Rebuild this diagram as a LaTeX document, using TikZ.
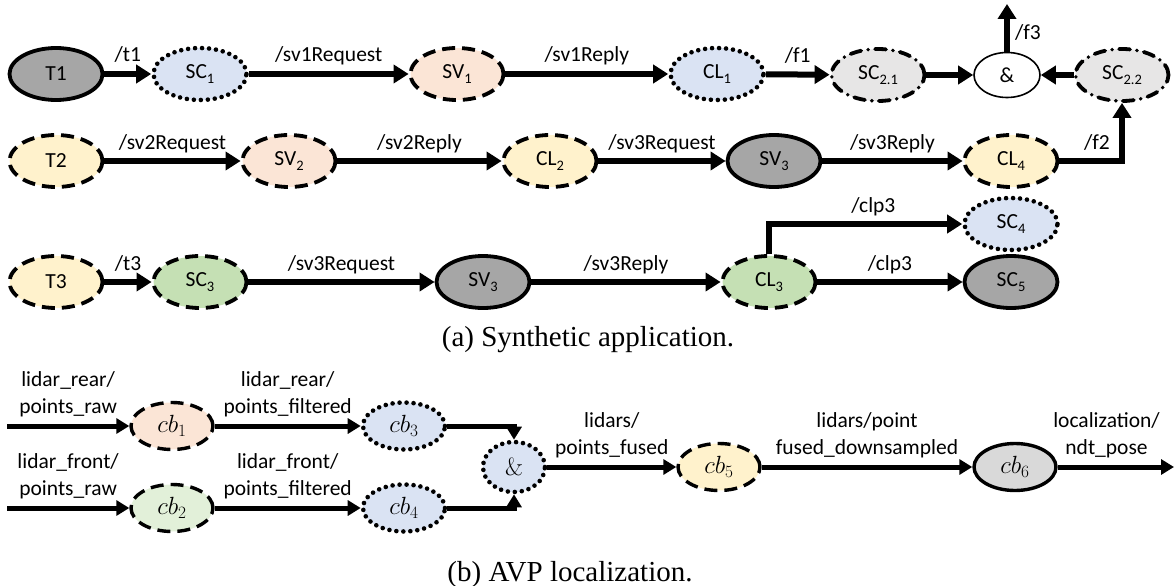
\documentclass[tikz,border=0pt]{standalone}
\usepackage[no-math]{fontspec}
\setmainfont{Carlito}
\newfontfamily\capfont{Liberation Serif}
\usetikzlibrary{shapes.geometric,arrows.meta}

% lowered, smaller index for the node names (SC_1, CL_2, ...)
\newcommand\idx[1]{\raisebox{-4.5pt}{\fontsize{14.5}{15}\selectfont #1}}

\definecolor{cgray}{HTML}{A6A6A6}
\definecolor{cblue}{HTML}{DAE3F3}
\definecolor{cpeach}{HTML}{FBE5D6}
\definecolor{cyellow}{HTML}{FFF2CC}
\definecolor{cgreen}{HTML}{C5E0B4}
\definecolor{clgreen}{HTML}{E2F0D9}
\definecolor{clgray}{HTML}{E7E6E6}
\definecolor{cmgray}{HTML}{D9D9D9}

\tikzset{
  nd/.style={ellipse, draw=black, line width=3.8pt, minimum width=93pt,
    minimum height=52pt, inner sep=0pt, font=\fontsize{21.5}{26}\selectfont},
  nsmall/.style={nd, line width=3.4pt, minimum width=82pt, minimum height=47pt,
    font=\fontsize{25}{30}\selectfont},
  dashb/.style={dash pattern=on 13pt off 7pt},
  dotb/.style={line width=4.6pt, dash pattern=on 0pt off 7pt, line cap=round},
  dashdotb/.style={dash pattern=on 11pt off 7pt on 0pt off 7pt, line cap=round},
  flow/.style={line width=6pt, -{Triangle[length=15pt,width=18pt]}},
  flowb/.style={line width=5pt, -{Triangle[length=13pt,width=15pt]}},
  lbl/.style={font=\fontsize{21.5}{26}\selectfont, anchor=base, yshift=12pt,
    inner sep=0pt},
  lbltwo/.style={font=\fontsize{21.5}{27}\selectfont, align=center,
    anchor=south, inner sep=0pt, yshift=7pt},
  captext/.style={font=\capfont\fontsize{29}{33}\selectfont, inner sep=0pt},
}

\begin{document}
\begin{tikzpicture}[x=1pt,y=-1pt]
\useasboundingbox (0,0) rectangle (1175,586);

% ---------------- (a) synthetic application ----------------
% row 1
\node[nd, fill=cgray] (T1) at (56,74) {T1};
\node[nd, dotb, fill=cblue] (SC1) at (200,74) {SC\idx{1}};
\node[nd, dashb, fill=cpeach] (SV1) at (457,74) {SV\idx{1}};
\node[nd, dotb, fill=cblue] (CL1) at (717,74) {CL\idx{1}};
\node[nd, dashdotb, fill=clgray] (SC21) at (878,75) {SC\idx{2.1}};
\node[nd, fill=white, line width=1.6pt, minimum width=66pt,
      minimum height=45pt] (AND) at (1007,75) {\&};
\node[nd, dashdotb, fill=clgray] (SC22) at (1122,75) {SC\idx{2.2}};
\coordinate (F3) at (1007,4);

% row 2
\node[nd, dashb, fill=cyellow] (T2) at (56,161) {T2};
\node[nd, dashb, fill=cpeach] (SV2) at (289,161) {SV\idx{2}};
\node[nd, dashb, fill=cyellow] (CL2) at (550,161) {CL\idx{2}};
\node[nd, fill=cgray] (SV3) at (774,161) {SV\idx{3}};
\node[nd, dashb, fill=cyellow] (CL4) at (1011,161) {CL\idx{4}};

% row 3
\node[nd, dashb, fill=cyellow] (T3) at (56,282) {T3};
\node[nd, dashb, fill=cgreen] (SC3) at (200,282) {SC\idx{3}};
\node[nd, fill=cgray] (SV3b) at (483,282) {SV\idx{3}};
\node[nd, dashb, fill=cgreen] (CL3) at (769,282) {CL\idx{3}};
\node[nd, dotb, fill=cblue] (SC4) at (1011,224) {SC\idx{4}};
\node[nd, fill=cgray] (SC5) at (1011,282) {SC\idx{5}};

% connectors, row 1
\draw[flow] (T1) -- node[lbl]{/t1} (SC1);
\draw[flow] (SC1) -- node[lbl]{/sv1Request} (SV1);
\draw[flow] (SV1) -- node[lbl]{/sv1Reply} (CL1);
\draw[flow] (CL1) -- node[lbl]{/f1} (SC21);
\draw[flow] (SC21) -- (AND);
\draw[flow] (SC22) -- (AND);
\draw[flow] (AND) -- node[pos=0.4, right, xshift=5pt,
  font=\fontsize{21.5}{26}\selectfont, inner sep=0pt]{/f3} (F3);

% connectors, row 2
\draw[flow] (T2) -- node[lbl]{/sv2Request} (SV2);
\draw[flow] (SV2) -- node[lbl]{/sv2Reply} (CL2);
\draw[flow] (CL2) -- node[lbl]{/sv3Request} (SV3);
\draw[flow] (SV3) -- node[lbl]{/sv3Reply} (CL4);
\draw[flow] (CL4) -| node[lbl, pos=0.3]{/f2} (SC22);

% connectors, row 3
\draw[flow] (T3) -- node[lbl]{/t3} (SC3);
\draw[flow] (SC3) -- node[lbl]{/sv3Request} (SV3b);
\draw[flow] (SV3b) -- node[lbl]{/sv3Reply} (CL3);
\draw[flow] (CL3) -- node[lbl]{/clp3} (SC5);
\draw[flow] (CL3.north) |- node[lbl, pos=0.77]{/clp3} (SC4);

\node[captext] (capa) at (588,340) {(a) Synthetic application.};

% ---------------- (b) AVP localization ----------------
\node[nsmall, dashb, fill=cpeach] (cb1) at (172,426) {$cb_1$};
\node[nsmall, dotb, fill=cblue] (cb3) at (404,426) {$cb_3$};
\node[nsmall, dashb, fill=clgreen] (cb2) at (172,508) {$cb_2$};
\node[nsmall, dotb, fill=cblue] (cb4) at (404,508) {$cb_4$};
\node[nsmall, dotb, fill=cblue, minimum width=62pt, minimum height=50pt]
  (ANDb) at (514,467) {$\&$};
\node[nsmall, dashb, fill=cyellow] (cb5) at (719,467) {$cb_5$};
\node[nsmall, fill=cmgray] (cb6) at (1015,467) {$cb_6$};
\coordinate (in1) at (7,426);
\coordinate (in2) at (7,508);
\coordinate (out) at (1174,467);

\draw[flowb] (in1) -- node[lbltwo]{lidar\_rear/\\points\_raw} (cb1);
\draw[flowb] (in2) -- node[lbltwo]{lidar\_front/\\points\_raw} (cb2);
\draw[flowb] (cb1) -- node[lbltwo]{lidar\_rear/\\points\_filtered} (cb3);
\draw[flowb] (cb2) -- node[lbltwo]{lidar\_front/\\points\_filtered} (cb4);
\draw[flowb] (cb3) -| (ANDb);
\draw[flowb] (cb4) -| (ANDb);
\draw[flowb] (ANDb) -- node[lbltwo]{lidars/\\points\_fused} (cb5);
\draw[flowb] (cb5) -- node[lbltwo]{lidars/point\\fused\_downsampled} (cb6);
\draw[flowb] (cb6) -- node[lbltwo, pos=0.42]{localization/\\ndt\_pose} (out);

\node[captext] (capb) at (570,575) {(b) AVP localization.};
\end{tikzpicture}
\end{document}
